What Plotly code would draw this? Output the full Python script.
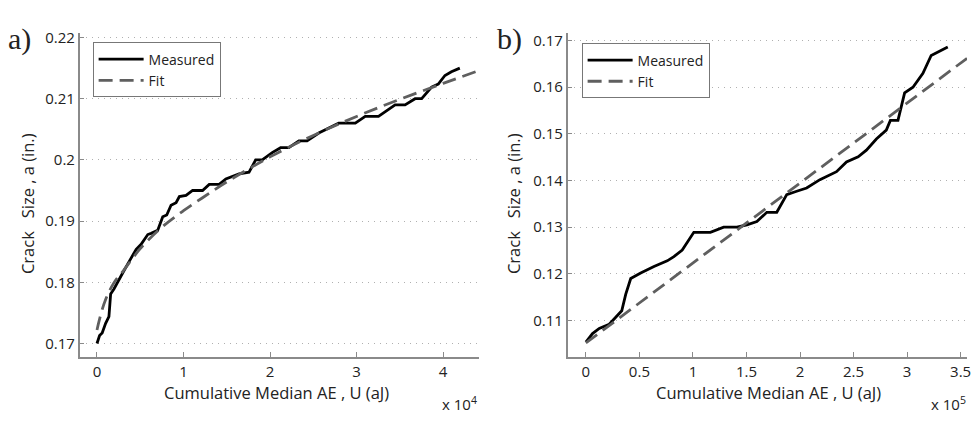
import plotly.graph_objects as go

# ---------------- data ----------------
# Panel a) : x in aJ (axis shown x 10^4)
a_meas_u = [0, 300, 600, 1000, 1380, 1580, 1960, 2350, 3000, 3760, 4530, 5100, 5870, 6260,
            7020, 7600, 8060, 8560, 9140, 9520, 10290, 11050, 12200, 12970, 14120, 14890,
            16420, 17570, 18340, 19100, 20250, 21220, 22170, 23330, 24280, 25630, 26780,
            27930, 29850, 31000, 32530, 34450, 35600, 36760, 37520, 38670, 39440, 40210,
            40960, 41930]
a_meas_a = [0.1700, 0.1713, 0.1717, 0.1733, 0.1744, 0.1781, 0.1789, 0.1800, 0.1816, 0.1835,
            0.1854, 0.1862, 0.1878, 0.1880, 0.1885, 0.1907, 0.1910, 0.1926, 0.1930, 0.1940,
            0.1942, 0.1950, 0.1950, 0.1960, 0.1960, 0.1969, 0.1977, 0.1980, 0.2000, 0.2000,
            0.2012, 0.2020, 0.2020, 0.2031, 0.2031, 0.2044, 0.2052, 0.2060, 0.2060, 0.2071,
            0.2071, 0.2090, 0.2090, 0.2100, 0.2100, 0.2119, 0.2124, 0.2138, 0.2144, 0.2150]
a_fit_u = [0, 300, 1000, 2000, 3000, 5000, 7500, 10000, 12500, 15000, 20000, 25000, 30000,
           35000, 40000, 44150]
a_fit_a = [0.1722, 0.1740, 0.1772, 0.1800, 0.1818, 0.1855, 0.1890, 0.1917, 0.1941, 0.1964,
           0.2005, 0.2040, 0.2071, 0.2099, 0.2125, 0.2146]

# Panel b) : x in aJ (axis shown x 10^5)
b_meas_u = [0, 6200, 12500, 21800, 27900, 33500, 37200, 41900, 51200, 63600, 76000, 82200,
            90000, 100800, 116300, 128700, 141100, 150400, 159700, 169000, 178300, 187600,
            196900, 206200, 218600, 234100, 243400, 254300, 262000, 271300, 280600, 284400,
            291500, 297700, 305500, 314800, 322500, 338000]
b_meas_a = [0.1054, 0.1072, 0.1083, 0.1092, 0.1107, 0.1121, 0.1156, 0.1190, 0.1202, 0.1216,
            0.1228, 0.1237, 0.1251, 0.1289, 0.1289, 0.1300, 0.1300, 0.1305, 0.1312, 0.1332,
            0.1332, 0.1370, 0.1377, 0.1384, 0.1402, 0.1419, 0.1440, 0.1451, 0.1465, 0.1489,
            0.1508, 0.1529, 0.1529, 0.1588, 0.1600, 0.1630, 0.1668, 0.1686]
b_fit_u = [0, 356000]
b_fit_a = [0.1052, 0.1662]

a_xtick_vals = [0, 10000, 20000, 30000, 40000]
a_xtick_text = ["0", "1", "2", "3", "4"]
a_ytick_vals = [0.17, 0.18, 0.19, 0.20, 0.21, 0.22]
a_ytick_text = ["0.17", "0.18", "0.19", "0.2", "0.21", "0.22"]
b_xtick_vals = [0, 50000, 100000, 150000, 200000, 250000, 300000, 350000]
b_xtick_text = ["0", "0.5", "1", "1.5", "2", "2.5", "3", "3.5"]
b_ytick_vals = [0.11, 0.12, 0.13, 0.14, 0.15, 0.16, 0.17]
b_ytick_text = ["0.11", "0.12", "0.13", "0.14", "0.15", "0.16", "0.17"]

# ---------------- figure ----------------
W, H = 980, 423
FONT = "Open Sans"
TXT = "#222222"
AXC = "#8a8a8a"

def px_x(p):
    return p / W

def px_y(p):
    return 1 - p / H

fig = go.Figure()

meas_line = dict(color="black", width=2.8)
fit_line = dict(color="#5f5f5f", width=2.8, dash="14px,7px")

fig.add_trace(go.Scatter(x=a_meas_u, y=a_meas_a, mode="lines", name="Measured",
                         line=meas_line, xaxis="x", yaxis="y", legend="legend"))
fig.add_trace(go.Scatter(x=a_fit_u, y=a_fit_a, mode="lines", name="Fit", line_shape="spline",
                         line=fit_line, xaxis="x", yaxis="y", legend="legend"))
fig.add_trace(go.Scatter(x=b_meas_u, y=b_meas_a, mode="lines", name="Measured",
                         line=meas_line, xaxis="x2", yaxis="y2", legend="legend2"))
fig.add_trace(go.Scatter(x=b_fit_u, y=b_fit_a, mode="lines", name="Fit",
                         line=fit_line, xaxis="x2", yaxis="y2", legend="legend2"))

ydom = [px_y(356), px_y(27)]
common_x = dict(showline=True, linecolor=AXC, linewidth=1.5, ticks="inside", ticklen=5,
                tickcolor=AXC, showgrid=False, zeroline=False,
                tickfont=dict(family=FONT, size=15, color=TXT))
common_y = dict(showline=True, linecolor=AXC, linewidth=1.5, ticks="inside", ticklen=5,
                tickcolor=AXC, showgrid=True, gridcolor="#b0b0b0", griddash="1px,5px",
                gridwidth=1, zeroline=False,
                tickfont=dict(family=FONT, size=15, color=TXT))

legend_common = dict(bgcolor="white", bordercolor="#777777", borderwidth=1,
                     font=dict(family=FONT, size=14, color=TXT),
                     xanchor="left", yanchor="top", tracegroupgap=0, itemwidth=45)

fig.update_layout(
    width=W, height=H,
    margin=dict(l=0, r=0, t=0, b=0),
    paper_bgcolor="white", plot_bgcolor="white",
    xaxis=dict(domain=[px_x(80), px_x(481)], range=[-2000, 44150], anchor="y",
               tickvals=a_xtick_vals, ticktext=a_xtick_text, **common_x),
    yaxis=dict(domain=ydom, range=[0.1678, 0.2208], anchor="x",
               tickvals=a_ytick_vals, ticktext=a_ytick_text, **common_y),
    xaxis2=dict(domain=[px_x(570), px_x(971)], range=[-17000, 356000], anchor="y2",
                tickvals=b_xtick_vals, ticktext=b_xtick_text, **common_x),
    yaxis2=dict(domain=ydom, range=[0.1022, 0.1717], anchor="x2",
                tickvals=b_ytick_vals, ticktext=b_ytick_text, **common_y),
    legend=dict(x=px_x(93), y=px_y(37), **legend_common),
    legend2=dict(x=px_x(584), y=px_y(38), **legend_common),
    showlegend=True,
)

ann = []
def text(x, y, s, size=14, family=FONT, angle=0, xanchor="center", yanchor="middle"):
    ann.append(dict(x=px_x(x), y=px_y(y), xref="paper", yref="paper", text=s,
                    showarrow=False, textangle=angle, xanchor=xanchor, yanchor=yanchor,
                    font=dict(family=family, size=size, color=TXT)))

text(278, 392, "Cumulative Median AE , U (aJ)", size=16.5)
text(772, 392, "Cumulative Median AE , U (aJ)", size=16.5)
text(27, 200, "Crack\u00a0\u00a0 Size , a (in.)", size=16.5, angle=-90)
text(515, 200, "Crack\u00a0\u00a0 Size , a (in.)", size=16.5, angle=-90)
text(481, 403, "x 10<sup>4</sup>", size=15, xanchor="right")
text(972, 403, "x 10<sup>5</sup>", size=15, xanchor="right")
text(20, 33, "a)", size=30, family="Liberation Serif", xanchor="center")
text(512, 33, "b)", size=30, family="Liberation Serif", xanchor="center")
fig.update_layout(annotations=ann)

fig.write_html("out.html")
